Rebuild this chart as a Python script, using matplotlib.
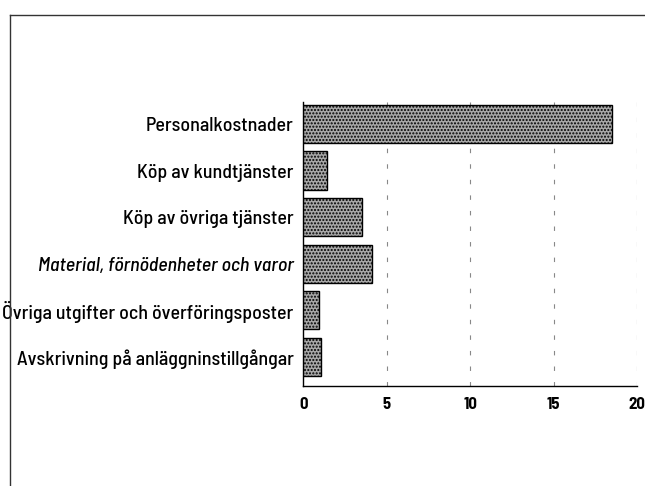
import matplotlib.pyplot as plt
from matplotlib.lines import Line2D

categories = ['Personalkostnader', 'Köp av kundtjänster', 'Köp av övriga tjänster',
              'Material, förnödenheter och varor', 'Övriga utgifter och överföringsposter',
              'Avskrivning på anläggninstillgångar']
values = [18.5, 1.4, 3.5, 4.1, 0.95, 1.05]
xticks = [0, 5, 10, 15, 20]

plt.rcParams['font.family'] = ['Barlow Semi Condensed', 'Liberation Sans', 'DejaVu Sans']

fig = plt.figure(figsize=(6.45, 4.86), dpi=100)
ax = fig.add_axes([0.470, 0.206, 0.518, 0.584])

pos = list(range(len(categories)))
ax.barh(pos, values, height=0.82, color='#a8a8a8', edgecolor='black',
        linewidth=1.0, hatch='.....', zorder=3)

for x in xticks[1:]:
    ax.axvline(x, color='#888888', linewidth=0.8, linestyle=(0, (4, 10)), zorder=1)

ax.set_xlim(0, 20)
ax.set_ylim(5.62, -0.47)
ax.set_xticks(xticks)
ax.set_xticklabels([str(t) for t in xticks], fontsize=12, fontweight='bold')
ax.set_yticks(pos)
ax.set_yticklabels(categories, fontsize=14.3, fontweight='medium')
ax.get_yticklabels()[3].set_style('italic')
ax.tick_params(axis='both', length=0)
ax.tick_params(axis='y', pad=7)
ax.tick_params(axis='x', pad=8)

for s in ['top', 'right']:
    ax.spines[s].set_visible(False)
ax.spines['left'].set_linewidth(1.0)
ax.spines['bottom'].set_linewidth(1.0)

# scanned frame around the figure
fig.add_artist(Line2D([10 / 645, 10 / 645], [0, 1 - 15 / 486], color='#333333', linewidth=1.0,
                      transform=fig.transFigure))
fig.add_artist(Line2D([10 / 645, 1], [1 - 15 / 486, 1 - 15 / 486], color='#333333', linewidth=1.0,
                      transform=fig.transFigure))

plt.savefig('out.png', dpi=100)
